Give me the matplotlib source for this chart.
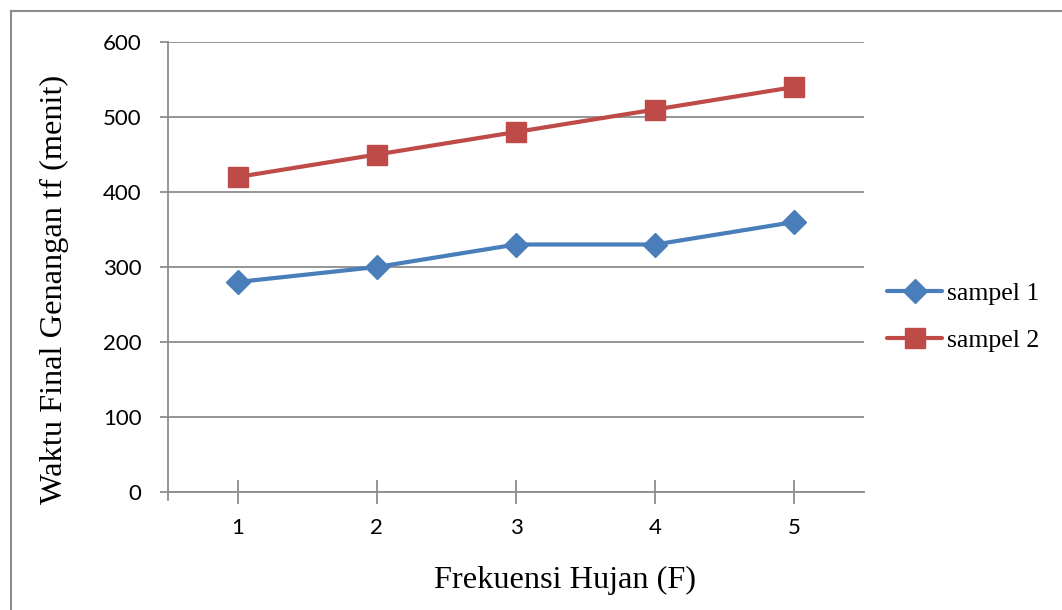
import matplotlib
matplotlib.use("Agg")
import matplotlib.pyplot as plt
from matplotlib.lines import Line2D

# Data
frekuensi = [1, 2, 3, 4, 5]
sampel_1 = [280, 300, 330, 330, 360]
sampel_2 = [420, 450, 480, 510, 540]
y_ticks = [0, 100, 200, 300, 400, 500, 600]

blue = "#4A7EBB"
red = "#BE4B48"
grid_c = "#8C8C8C"
serif = "Liberation Serif"

fig = plt.figure(figsize=(10.62, 6.10), dpi=100)
W, H = 1062, 610
ax = fig.add_axes([168 / W, 1 - 492 / H, (864 - 168) / W, (492 - 42) / H])

ax.plot(frekuensi, sampel_1, color=blue, lw=3, marker="D", ms=12,
        markerfacecolor=blue, markeredgecolor=blue, label="sampel 1",
        solid_capstyle="round", zorder=3)
ax.plot(frekuensi, sampel_2, color=red, lw=3, marker="s", ms=14.4,
        markerfacecolor=red, markeredgecolor=red, label="sampel 2",
        solid_capstyle="round", zorder=3)

ax.set_xlim(0.5, 5.5)
ax.set_ylim(0, 600)
ax.set_xticks(frekuensi)
ax.set_yticks(y_ticks)

for s in ["top", "right"]:
    ax.spines[s].set_visible(False)
for s in ["left", "bottom"]:
    ax.spines[s].set_color(grid_c)
    ax.spines[s].set_linewidth(1.3)

ax.yaxis.grid(True, color=grid_c, lw=1.3)
ax.set_axisbelow(True)

tick_font = "Lato"
ax.tick_params(axis="y", direction="out", length=6, width=1.3, color=grid_c,
               labelsize=16, pad=13)
ax.tick_params(axis="x", direction="inout", length=17, width=1.3, color=grid_c,
               labelsize=16, pad=10)
for lab in ax.get_xticklabels() + ax.get_yticklabels():
    lab.set_fontfamily(tick_font)

# y-axis line continues a little below zero
ax.plot([0.5, 0.5], [0, -10], color=grid_c, lw=1.3, clip_on=False)

# Axis titles
fig.text(565 / W, 1 - 580 / H, "Frekuensi Hujan (F)", family=serif,
         fontsize=23.3, ha="center", va="center")
fig.text(54 / W, 1 - 289 / H, "Waktu Final Genangan tf (menit)", family=serif,
         fontsize=23.3, rotation=90, ha="center", va="center")

leg = ax.legend(loc="center left", bbox_to_anchor=(887 / W, 1 - 317 / H),
                bbox_transform=fig.transFigure, frameon=False,
                prop={"family": serif, "size": 18.5},
                borderaxespad=0, borderpad=0,
                handlelength=2.15, handletextpad=0.2, labelspacing=0.92)

# Chart border (top and left edges)
fig.add_artist(Line2D([11 / W, 1.0], [1 - 11 / H, 1 - 11 / H], color="#8C8C8C", lw=1.5))
fig.add_artist(Line2D([11 / W, 11 / W], [0, 1 - 11 / H], color="#8C8C8C", lw=1.5))

fig.savefig("out.png", dpi=100)
